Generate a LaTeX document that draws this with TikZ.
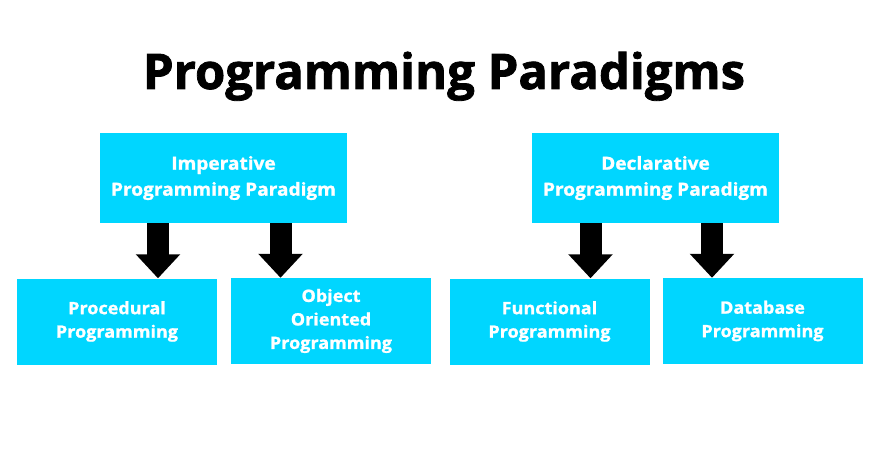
\documentclass[tikz,border=0pt]{standalone}
\usepackage{fontspec}
\setmainfont{Open Sans}
\newfontfamily\boxfont{Open Sans}[BoldFeatures={FakeBold=1.2, FakeStretch=1.06}]
\newfontfamily\titlefont{Open Sans}[BoldFeatures={FakeBold=1.6}]
\usepackage{tikz}
\usetikzlibrary{arrows.meta, positioning}
\definecolor{boxCyan}{RGB}{0, 214, 255}

\begin{document}
\begin{tikzpicture}[x=1pt, y=-1pt,
  paradigm/.style={rectangle, fill=boxCyan, text=white, minimum width=247pt,
                   minimum height=90pt, align=center,
                   font=\boxfont\fontsize{18}{26}\selectfont\bfseries},
  kind/.style={rectangle, fill=boxCyan, text=white, minimum width=200pt,
               minimum height=86pt, align=center,
               font=\boxfont\fontsize{17}{23.5}\selectfont\bfseries},
  blockarrow/.style={-{Triangle[width=43pt, length=24pt]}, line width=22pt, black},
]
  \useasboundingbox (0,0) rectangle (880,462);
  \fill[white] (0,0) rectangle (880,462);

  \node[anchor=base, font=\titlefont\fontsize{49}{60}\selectfont\bfseries] (title) at (444,89) {Programming Paradigms};

  \node[paradigm] (imp) at (223.5,178) {Imperative\\Programming Paradigm};
  \node[paradigm] (dec) at (655.5,178) {Declarative\\Programming Paradigm};

  \node[kind] (proc) at (117,321.5) {Procedural\\Programming};
  \node[kind] (oop) at (331,321) {Object\\Oriented\\Programming};
  \node[kind] (func) at (549.5,321.5) {Functional\\Programming};
  \node[kind] (db) at (762.5,321) {Database\\Programming};

  % arrow positions
  \coordinate (a1) at (158,0);
  \coordinate (a2) at (280.5,0);
  \coordinate (a3) at (590.5,0);
  \coordinate (a4) at (712,0);

  \draw[blockarrow] (imp.south -| a1) -- (proc.north -| a1);
  \draw[blockarrow] (imp.south -| a2) -- (oop.north -| a2);
  \draw[blockarrow] (dec.south -| a3) -- (func.north -| a3);
  \draw[blockarrow] (dec.south -| a4) -- (db.north -| a4);
\end{tikzpicture}
\end{document}
